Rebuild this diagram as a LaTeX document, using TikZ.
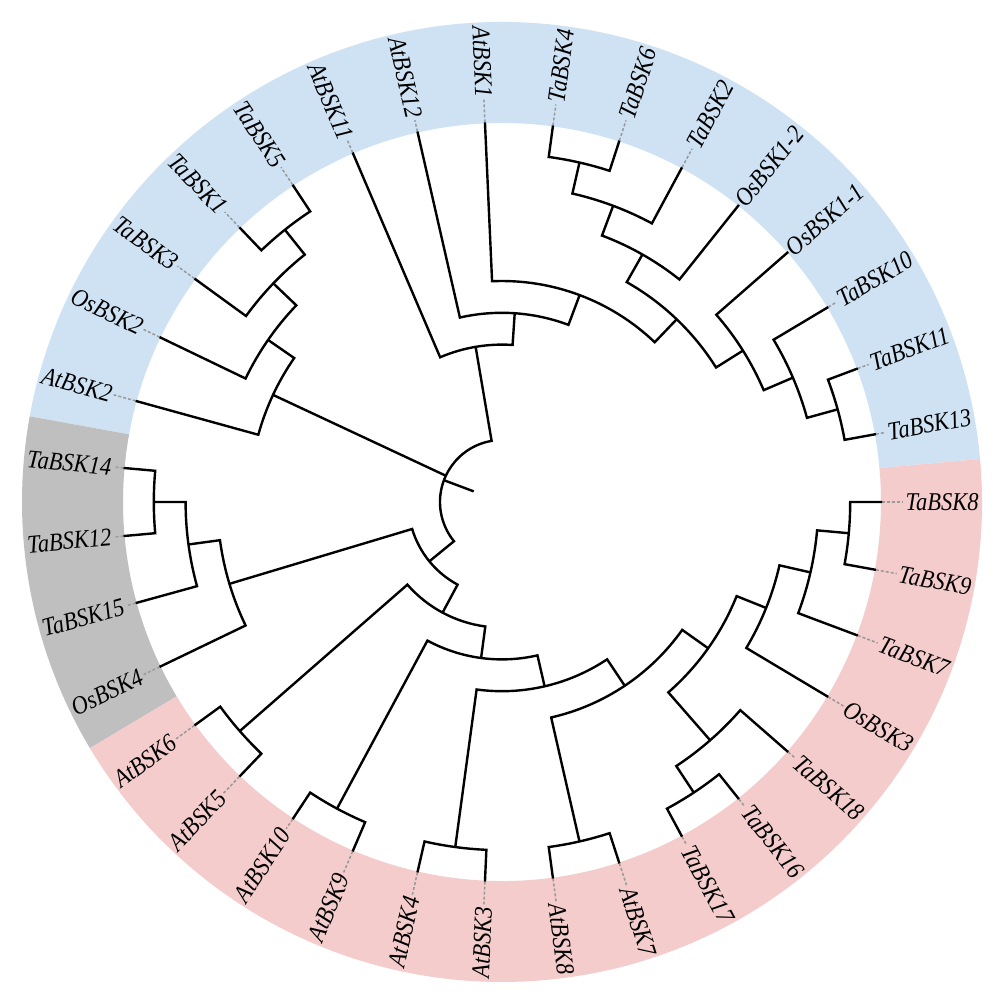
\documentclass[tikz,border=0pt]{standalone}
\usepackage{fontspec}
\setmainfont{Liberation Serif}
\newfontfamily\lblfont{Liberation Serif}[FakeStretch=0.88]
\definecolor{ringblue}{HTML}{CFE2F3}
\definecolor{ringpink}{HTML}{F4CCCC}
\definecolor{ringgray}{HTML}{BFBFBF}
\definecolor{dashgray}{HTML}{999999}
\newcommand\ringsector[3]{% color, start angle, end angle
  \fill[#1] (#2:379) arc[start angle=#2, end angle=#3, radius=379] -- (#3:480)
    arc[start angle=#3, end angle=#2, radius=480] -- cycle;}
\newcommand\tipR[3]{% index, angle, text (right half)
  \coordinate (t#1) at (#2:380);
  \node[lbl, anchor=east, rotate=#2] (l#1) at (#2:479) {#3};
  \draw[leafline] (t#1) -- (l#1.west);}
\newcommand\tipL[4]{% index, angle, rotation, text (left half)
  \coordinate (t#1) at (#2:380);
  \node[lbl, anchor=west, rotate=#3] (l#1) at (#2:479) {#4};
  \draw[leafline] (t#1) -- (l#1.east);}
\newcommand\clade[6]{% name, radius, child1, angle1, child2, angle2
  \draw[branch] (#3) -- (#4:#2) arc[start angle=#4, end angle=#6, radius=#2] -- (#5);
  \coordinate (#1) at ({(#4+#6)/2}:#2);}
\begin{document}
\begin{tikzpicture}[x=0.5pt,y=0.5pt,
  branch/.style={line width=1.2pt, draw=black, line join=miter},
  leafline/.style={draw=dashgray, line width=0.75pt, dash pattern=on 1.5pt off 1pt},
  lbl/.style={inner sep=1pt, font=\lblfont\fontsize{12.8pt}{14pt}\selectfont\itshape}]
\useasboundingbox (-502,-500) rectangle (499,502);
\fill[white] (-502,-500) rectangle (499,502);
% coloured ring
\ringsector{ringblue}{5.1429}{169.7143}
\ringsector{ringgray}{169.7143}{210.8571}
\ringsector{ringpink}{210.8571}{365.1429}
% leaves and labels
\tipR{0}{0}{TaBSK8}
\tipR{1}{10.2857}{TaBSK13}
\tipR{2}{20.5714}{TaBSK11}
\tipR{3}{30.8571}{TaBSK10}
\tipR{4}{41.1429}{OsBSK1-1}
\tipR{5}{51.4286}{OsBSK1-2}
\tipR{6}{61.7143}{TaBSK2}
\tipR{7}{72}{TaBSK6}
\tipR{8}{82.2857}{TaBSK4}
\tipL{9}{92.5714}{-87.4286}{AtBSK1}
\tipL{10}{102.8571}{-77.1429}{AtBSK12}
\tipL{11}{113.1429}{-66.8571}{AtBSK11}
\tipL{12}{123.4286}{-56.5714}{TaBSK5}
\tipL{13}{133.7143}{-46.2857}{TaBSK1}
\tipL{14}{144}{-36}{TaBSK3}
\tipL{15}{154.2857}{-25.7143}{OsBSK2}
\tipL{16}{164.5714}{-15.4286}{AtBSK2}
\tipL{17}{174.8571}{-5.1429}{TaBSK14}
\tipL{18}{185.1429}{5.1429}{TaBSK12}
\tipL{19}{195.4286}{15.4286}{TaBSK15}
\tipL{20}{205.7143}{25.7143}{OsBSK4}
\tipL{21}{216}{36}{AtBSK6}
\tipL{22}{226.2857}{46.2857}{AtBSK5}
\tipL{23}{236.5714}{56.5714}{AtBSK10}
\tipL{24}{246.8571}{66.8571}{AtBSK9}
\tipL{25}{257.1429}{77.1429}{AtBSK4}
\tipL{26}{267.4286}{87.4286}{AtBSK3}
\tipR{27}{277.7143}{AtBSK8}
\tipR{28}{288}{AtBSK7}
\tipR{29}{298.2857}{TaBSK17}
\tipR{30}{308.5714}{TaBSK16}
\tipR{31}{318.8571}{TaBSK18}
\tipR{32}{329.1429}{OsBSK3}
\tipR{33}{339.4286}{TaBSK7}
\tipR{34}{349.7143}{TaBSK9}
% upper clade
\clade{N7}{348.2}{t1}{10.2857}{t2}{20.5714}
\clade{N6}{316.4}{N7}{15.4286}{t3}{30.8571}
\clade{N5}{284.6}{N6}{23.1429}{t4}{41.1429}
\clade{N1}{348.2}{t7}{72}{t8}{82.2857}
\clade{N2}{316.4}{t6}{61.7143}{N1}{77.1429}
\clade{N3}{284.6}{t5}{51.4286}{N2}{69.4286}
\clade{N4}{252.8}{N5}{32.1429}{N3}{60.4286}
\clade{T3}{221}{N4}{46.2857}{t9}{92.5714}
\clade{T2}{189.2}{T3}{69.4286}{t10}{102.8571}
\clade{T1}{157.4}{T2}{86.1429}{t11}{113.1429}
% left blue clade
\clade{A1}{348.2}{t12}{123.4286}{t13}{133.7143}
\clade{A2}{316.4}{A1}{128.5714}{t14}{144}
\clade{A3}{284.6}{A2}{136.2857}{t15}{154.2857}
\clade{A4}{252.8}{A3}{145.2857}{t16}{164.5714}
% grey clade
\clade{G3}{348.2}{t17}{174.8571}{t18}{185.1429}
\clade{G2}{316.4}{G3}{180}{t19}{195.4286}
\clade{G1}{284.6}{G2}{187.7143}{t20}{205.7143}
% pink clade
\clade{P65}{348.2}{t21}{216}{t22}{226.2857}
\clade{P109}{348.2}{t23}{236.5714}{t24}{246.8571}
\clade{P43}{348.2}{t25}{257.1429}{t26}{267.4286}
\clade{P87}{348.2}{t27}{277.7143}{t28}{288}
\clade{B11}{348.2}{t29}{298.2857}{t30}{308.5714}
\clade{B10}{316.4}{B11}{303.4286}{t31}{318.8571}
\clade{B9}{348.2}{t34}{349.7143}{t0}{360}
\clade{B8}{316.4}{t33}{339.4286}{B9}{354.8571}
\clade{B7}{284.6}{t32}{329.1429}{B8}{347.1429}
\clade{B6}{252.8}{B10}{311.1429}{B7}{338.1429}
\clade{B5}{221}{P87}{282.8571}{B6}{324.6429}
\clade{B4}{189.2}{P43}{262.2857}{B5}{303.75}
\clade{B3}{157.4}{P109}{241.7143}{B4}{283.0179}
\clade{B2}{125.6}{P65}{221.1429}{B3}{262.3661}
\clade{B1}{93.8}{G1}{196.7143}{B2}{241.7545}
% root
\clade{root}{62}{T1}{99.6429}{B1}{219.2344}
\coordinate (rootjoin) at (154.9286:62);
\draw[branch] (A4) -- (rootjoin);
\coordinate (rootstart) at (159.4386:62);
\coordinate (rootend) at (159.4386:30.2);
\draw[branch] (rootstart) -- (rootend);
\end{tikzpicture}
\end{document}
